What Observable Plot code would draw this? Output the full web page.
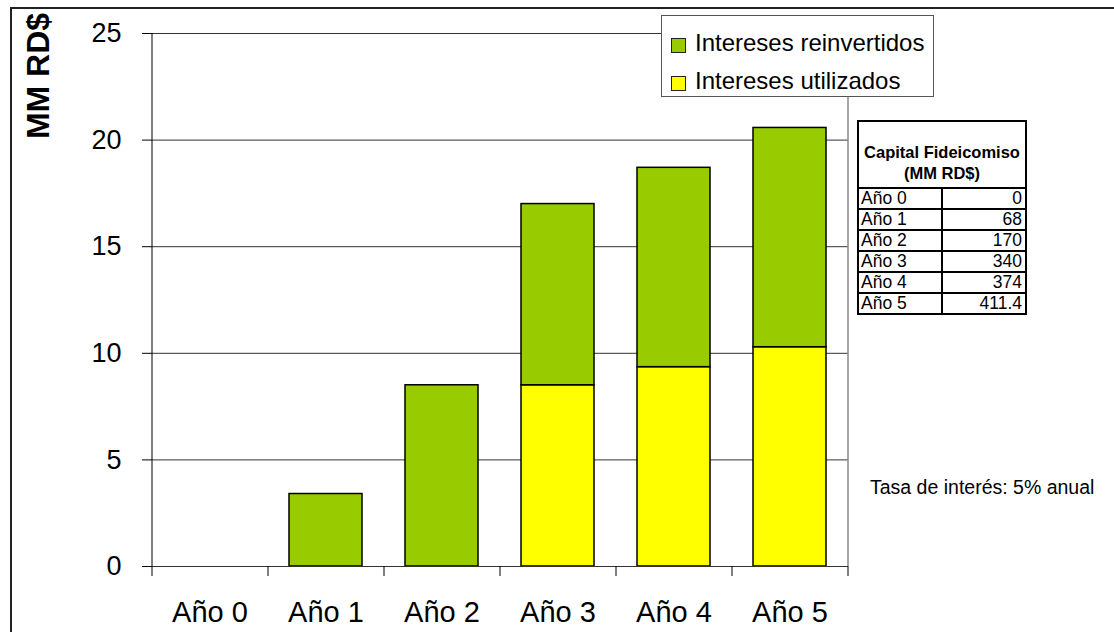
<!DOCTYPE html>
<html>
<head>
<meta charset="utf-8">
<script src="https://cdn.jsdelivr.net/npm/d3@7"></script>
<script src="https://cdn.jsdelivr.net/npm/@observablehq/plot@0.6"></script>
<style>
  body { margin: 0; background: #fff; font-family: "Liberation Sans", Arial, sans-serif; }
  #wrap { position: relative; width: 1114px; height: 632px; overflow: hidden; background: #fff; }
  #wrap svg { position: absolute; left: 0; top: 0; }
  .frame { position: absolute; left: 10px; top: 7px; width: 1300px; height: 800px; border-left: 2px solid #222; border-top: 2px solid #222; box-sizing: border-box; }
  .ytitle { position: absolute; left: 38px; top: 76px; transform: translate(-50%, -50%) rotate(-90deg); font-weight: bold; font-size: 32px; white-space: nowrap; color: #000; }
  .legend { position: absolute; left: 661px; top: 15px; width: 273px; height: 82px; box-sizing: border-box; border: 1px solid #555; background: #fff; }
  .legend .item { position: absolute; left: 9px; height: 30px; display: flex; align-items: center; font-size: 24px; color: #000; white-space: nowrap; }
  .legend .sw { width: 13px; height: 13px; border: 1px solid #222; margin-right: 9px; margin-top: 4px; }
  table.cap { position: absolute; left: 857px; top: 120px; width: 170px; border-collapse: collapse; border: 2px solid #000; background: #fff; color: #000; }
  table.cap th { height: 62px; vertical-align: bottom; text-align: center; font-weight: bold; font-size: 16.5px; line-height: 21px; padding: 0 0 3px 0; border: 2px solid #000; }
  table.cap td { height: 19px; line-height: 19px; font-size: 17.5px; padding: 0 3px 0 2px; border: 2px solid #000; width: 50%; }
  table.cap td.v { text-align: right; }
  .rate { position: absolute; left: 870px; top: 476px; font-size: 19.5px; white-space: nowrap; color: #000; }
</style>
</head>
<body>
<div id="wrap"></div>
<script>
// ---- data ----
const categories = ["Año 0", "Año 1", "Año 2", "Año 3", "Año 4", "Año 5"];
const interesesUtilizados = [0, 0, 0, 8.5, 9.35, 10.285];
const interesesReinvertidos = [0, 3.4, 8.5, 8.5, 9.35, 10.285];
const seriesNames = ["Intereses reinvertidos", "Intereses utilizados"];
const seriesColors = ["#99CC00", "#FFFF00"];
const yTicks = [0, 5, 10, 15, 20, 25];
const capitalLabels = ["Año 0", "Año 1", "Año 2", "Año 3", "Año 4", "Año 5"];
const capitalValues = ["0", "68", "170", "340", "374", "411.4"];
const tableTitle = ["Capital Fideicomiso", "(MM RD$)"];
const yTitle = "MM RD$";
const rateNote = "Tasa de interés: 5% anual";

// table for stacking: utilizados at the bottom, reinvertidos on top
const rows = [];
categories.forEach((c, i) => {
  rows.push({cat: c, series: seriesNames[1], value: interesesUtilizados[i]});
  rows.push({cat: c, series: seriesNames[0], value: interesesReinvertidos[i]});
});
const barRows = rows.filter(d => d.value > 0);

const W = 1114, H = 632;
const mL = 152, mR = 266, mT = 33, mB = 66;
const half = (W - mL - mR) / categories.length / 2;

const chart = Plot.plot({
  width: W,
  height: H,
  marginLeft: mL,
  marginRight: mR,
  marginTop: mT,
  marginBottom: mB,
  style: {fontFamily: "'Liberation Sans', Arial, sans-serif", color: "#000", background: "transparent"},
  x: {domain: categories, paddingInner: 0.37, paddingOuter: 0.185, label: null},
  y: {domain: [0, 25], label: null},
  color: {domain: seriesNames, range: seriesColors},
  marks: [
    Plot.ruleY(yTicks.filter(v => v > 0), {stroke: "#333", strokeWidth: 1}),
    // right border of the plot area
    Plot.ruleX([categories[categories.length - 1]], {y1: 0, y2: 25, dx: half, stroke: "#888", strokeWidth: 1.5}),
    Plot.barY(barRows, {x: "cat", y: "value", fill: "series", stroke: "#000", strokeWidth: 1.5}),
    Plot.ruleY([0], {stroke: "#333", strokeWidth: 1.2}),
    // y axis line
    Plot.ruleX([categories[0]], {y1: 0, y2: 25, dx: -half, stroke: "#000", strokeWidth: 1}),
    // x-axis tick marks at category boundaries
    Plot.ruleX(categories, {y1: 0, y2: 0, dx: -half, dy: 5, insetTop: -5, insetBottom: -5, stroke: "#000", strokeWidth: 1}),
    Plot.ruleX([categories[categories.length - 1]], {y1: 0, y2: 0, dx: half, dy: 5, insetTop: -5, insetBottom: -5, stroke: "#000", strokeWidth: 1}),
    Plot.axisY({ticks: yTicks, tickSize: 10, tickPadding: 21, fontSize: 27, tickFormat: d => String(d), stroke: "#000"}),
    Plot.axisX({tickSize: 0, tickPadding: 35, fontSize: 29})
  ]
});

const wrap = document.getElementById("wrap");
wrap.appendChild(chart);

// outer frame
const frame = document.createElement("div");
frame.className = "frame";
wrap.appendChild(frame);

// y title
const yt = document.createElement("div");
yt.className = "ytitle";
yt.textContent = yTitle;
wrap.appendChild(yt);

// legend
const lg = document.createElement("div");
lg.className = "legend";
seriesNames.forEach((s, i) => {
  const it = document.createElement("div");
  it.className = "item";
  it.style.top = (i === 0 ? 12 : 50) + "px";
  const sw = document.createElement("span");
  sw.className = "sw";
  sw.style.background = seriesColors[i];
  const tx = document.createElement("span");
  tx.textContent = s;
  it.appendChild(sw);
  it.appendChild(tx);
  lg.appendChild(it);
});
wrap.appendChild(lg);

// capital table
const tb = document.createElement("table");
tb.className = "cap";
const hr = document.createElement("tr");
const th = document.createElement("th");
th.colSpan = 2;
th.innerHTML = tableTitle.join("<br>");
hr.appendChild(th);
tb.appendChild(hr);
capitalLabels.forEach((l, i) => {
  const tr = document.createElement("tr");
  const a = document.createElement("td");
  a.textContent = l;
  const b = document.createElement("td");
  b.className = "v";
  b.textContent = capitalValues[i];
  tr.appendChild(a);
  tr.appendChild(b);
  tb.appendChild(tr);
});
wrap.appendChild(tb);

// rate note
const rt = document.createElement("div");
rt.className = "rate";
rt.textContent = rateNote;
wrap.appendChild(rt);
</script>
</body>
</html>
